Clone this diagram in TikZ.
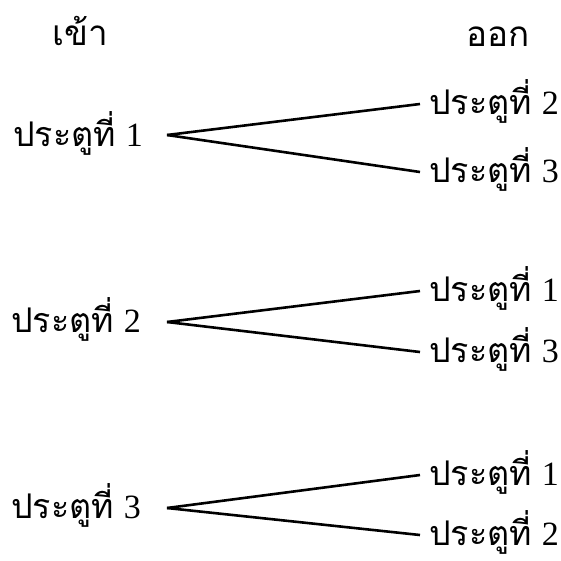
\documentclass[tikz,border=0pt]{standalone}
\usepackage{fontspec}
\newfontfamily\thaifont[Script=Thai]{Loma}
\newfontfamily\numfont{Liberation Serif}
\newcommand{\pt}[1]{{\thaifont ประตูที่}\hspace{10pt}{\numfont #1}}
\begin{document}
\begin{tikzpicture}[x=1pt,y=-1pt,
  lab/.style={inner sep=0pt, text height=21pt, text depth=0pt, font=\fontsize{34}{40}\selectfont},
  head/.style={inner sep=0pt, text height=20pt, text depth=0pt, font=\fontsize{35}{40}\selectfont\thaifont},
  branch/.style={line width=2.6pt}]
\useasboundingbox (0,0) rectangle (561,560);
\node[head, anchor=center] (in) at (80,35) {เข้า};
\node[head, anchor=center] (out) at (498,36) {ออก};
% group 1
\node[lab, anchor=west] (L1) at (13,136) {\pt{1}};
\node[lab, anchor=west] (R12) at (429,104) {\pt{2}};
\node[lab, anchor=west] (R13) at (429,172) {\pt{3}};
% group 2
\node[lab, anchor=west] (L2) at (11,322) {\pt{2}};
\node[lab, anchor=west] (R21) at (429,291) {\pt{1}};
\node[lab, anchor=west] (R23) at (429,352) {\pt{3}};
% group 3
\node[lab, anchor=west] (L3) at (11,508) {\pt{3}};
\node[lab, anchor=west] (R31) at (429,475) {\pt{1}};
\node[lab, anchor=west] (R32) at (429,535) {\pt{2}};
\coordinate (o1) at (167,135);
\coordinate (o2) at (167,322);
\coordinate (o3) at (167,508);
\draw[branch] (o1) -- (R12.west -| 420,0);
\draw[branch] (o1) -- (R13.west -| 420,0);
\draw[branch] (o2) -- (R21.west -| 420,0);
\draw[branch] (o2) -- (R23.west -| 420,0);
\draw[branch] (o3) -- (R31.west -| 420,0);
\draw[branch] (o3) -- (R32.west -| 420,0);
\end{tikzpicture}
\end{document}
